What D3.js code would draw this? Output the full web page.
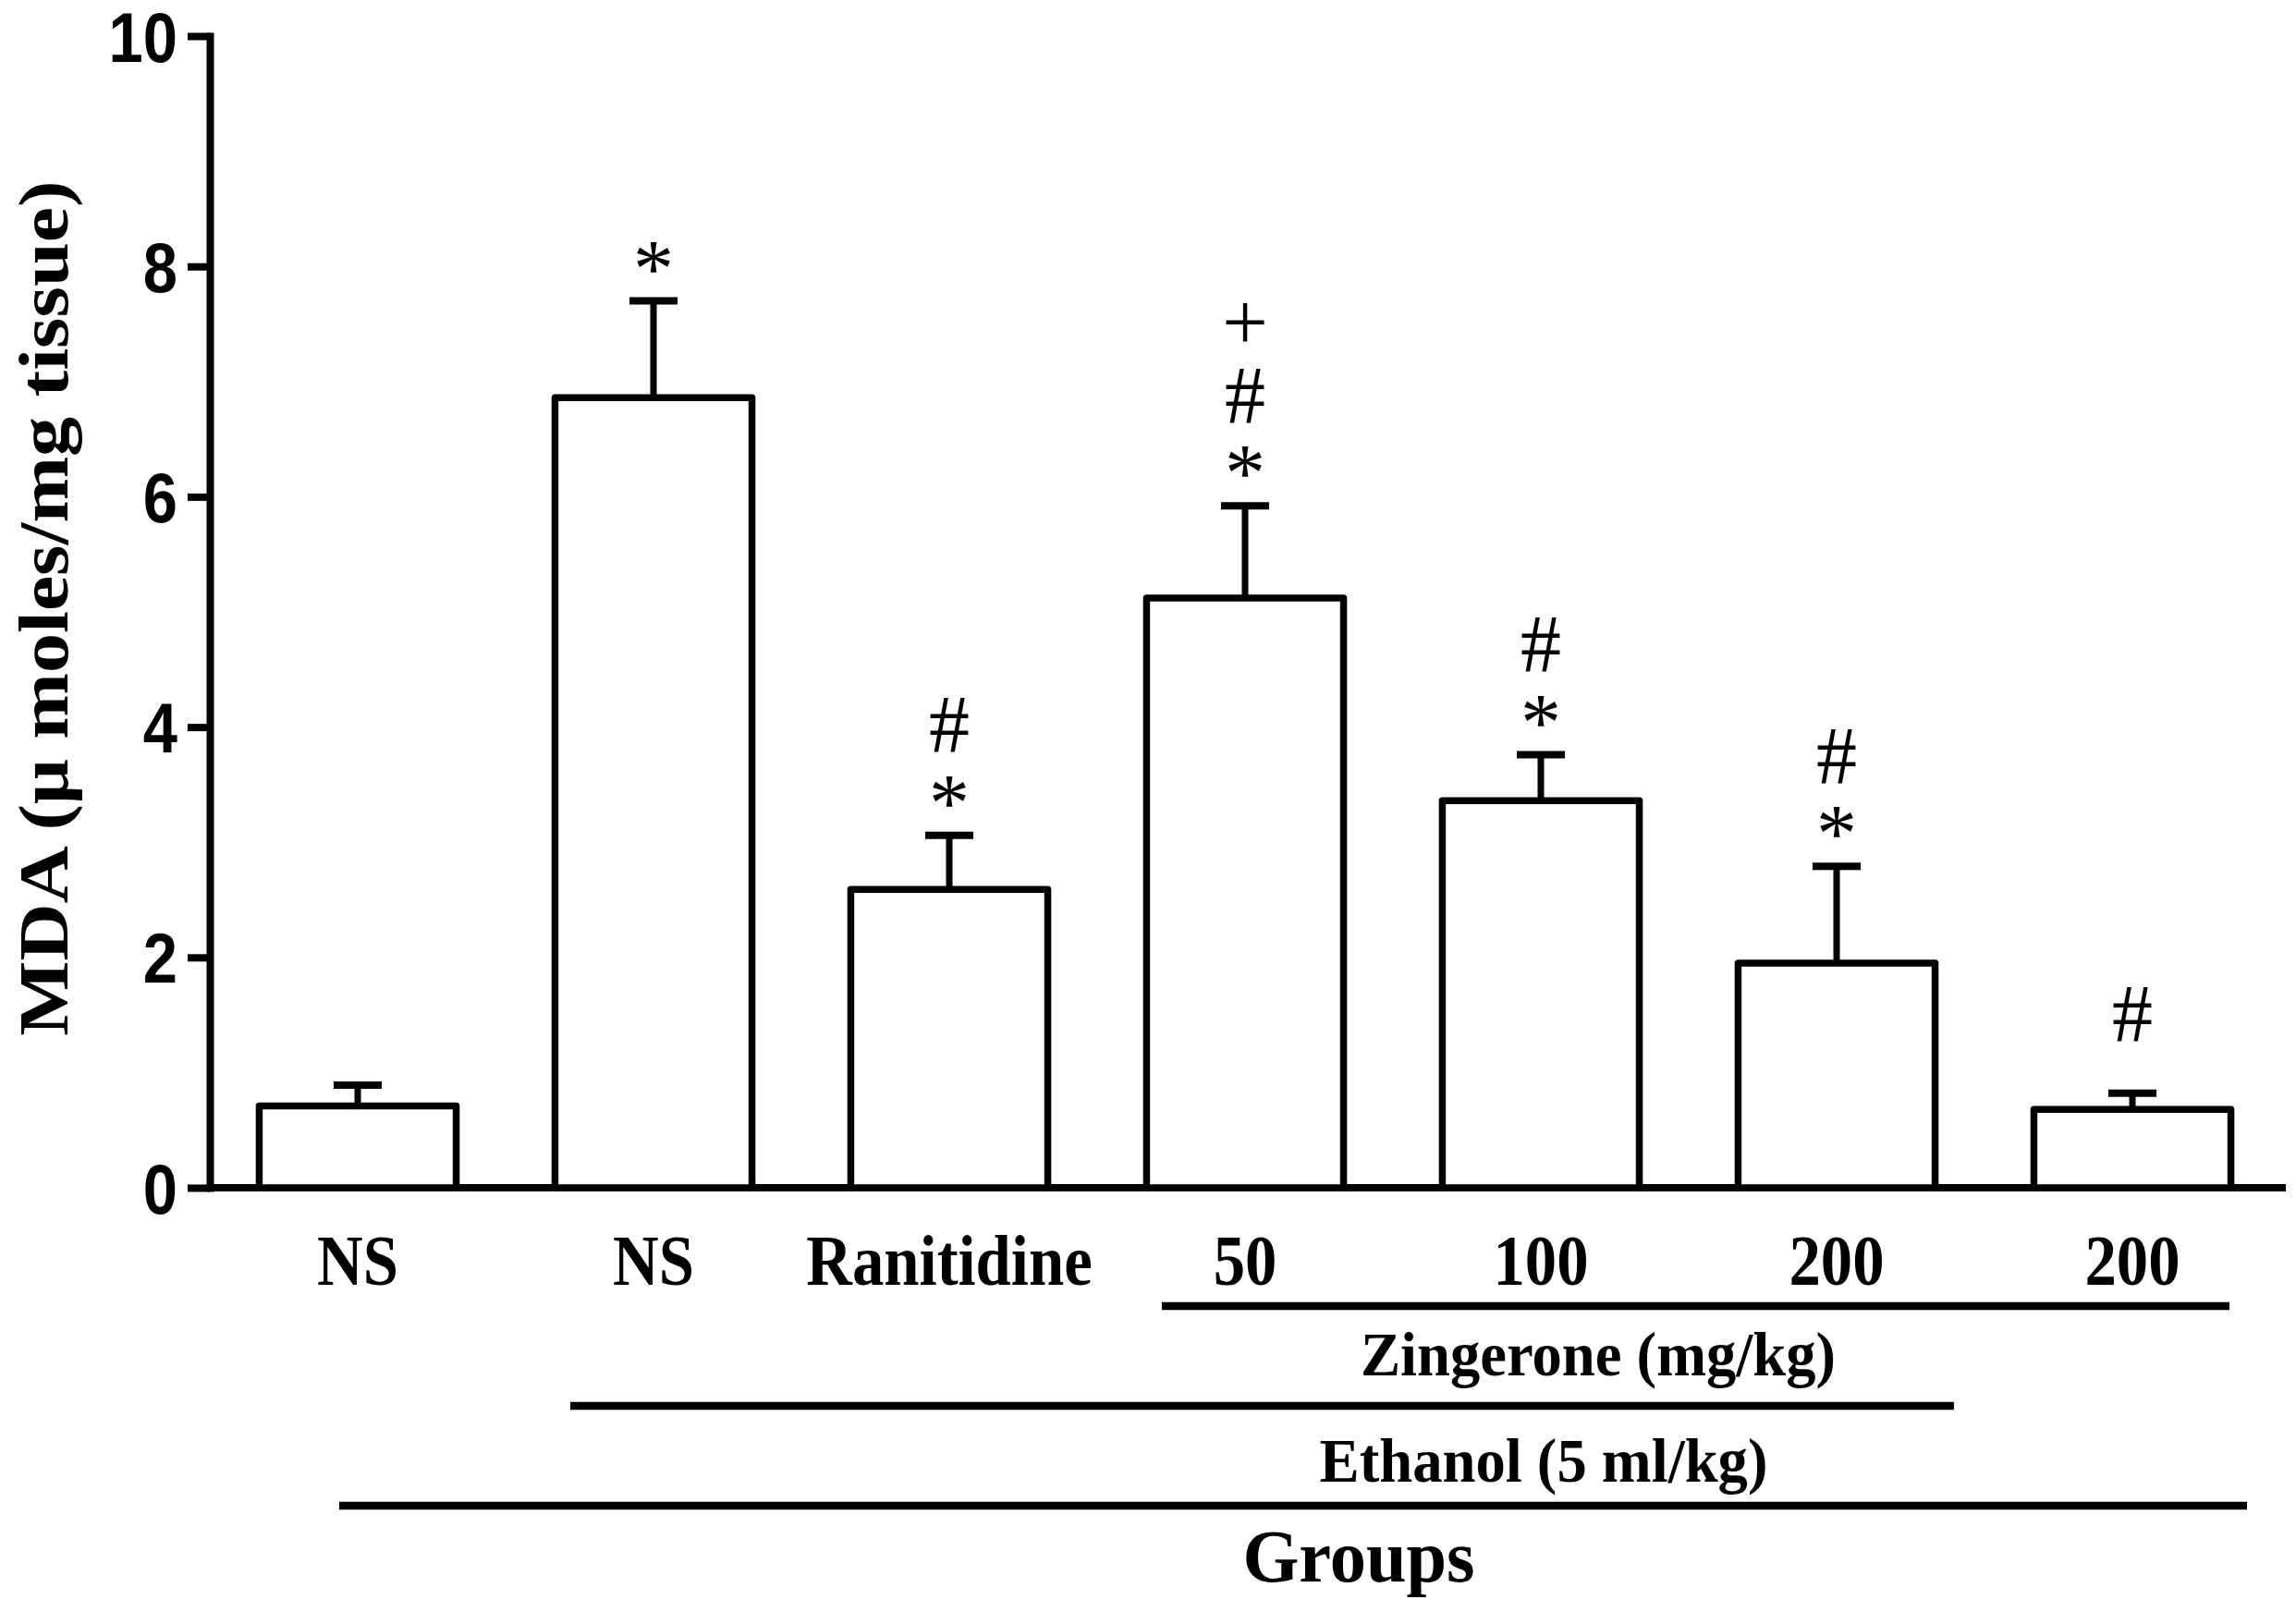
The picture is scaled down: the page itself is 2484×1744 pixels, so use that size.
<!DOCTYPE html>
<html>
<head>
<meta charset="utf-8">
<script src="https://cdn.jsdelivr.net/npm/d3@7"></script>
<style>
  body { margin: 0; background: #ffffff; }
  svg { display: block; }
</style>
</head>
<body>
<div id="chart"></div>
<script>
// Podaci (procijenjeni sa slike)
const groupLabels = ["NS", "NS", "Ranitidine", "50", "100", "200", "200"];
const mdaMean     = [0.71, 6.86, 2.59, 5.12, 3.36, 1.95, 0.68];
const mdaSem      = [0.18, 0.84, 0.47, 0.80, 0.40, 0.84, 0.14];
// oznake iznad stupaca, odozdo prema gore
const markers     = [[], ["*"], ["*", "#"], ["*", "#", "+"], ["*", "#"], ["*", "#"], ["#"]];
const yTicks      = [0, 2, 4, 6, 8, 10];

// podskupine ispod osi: tekst + indeksi prve/zadnje grupe
const bracketText  = ["Zingerone (mg/kg)", "Ethanol (5 ml/kg)", "Groups"];
const bracketFirst = [3, 1, 0];
const bracketLast  = [6, 5, 6];

const yTitle = "MDA (\u03bc moles/mg tissue)";

// Dimenzije
const W = 2484, H = 1744;
const svg = d3.select("#chart").append("svg")
    .attr("width", W)
    .attr("height", H);

const x = d3.scaleBand()
    .domain(d3.range(groupLabels.length))
    .range([227, 2467])
    .paddingInner(0.334)
    .paddingOuter(0.167);

const y = d3.scaleLinear()
    .domain([0, 10])
    .range([1285, 39]);

const black = "#000000";
const serif = "'Liberation Serif', 'Times New Roman', serif";
const sans  = "'Liberation Sans', Arial, sans-serif";

// Y os
const yAxis = svg.append("g")
    .attr("transform", "translate(227,0)")
    .call(d3.axisLeft(y).tickValues(yTicks).tickSize(24).tickSizeOuter(0));

yAxis.select(".domain")
    .attr("stroke", black)
    .attr("stroke-width", 8)
    .attr("stroke-linecap", "square");
yAxis.selectAll(".tick line")
    .attr("stroke", black)
    .attr("stroke-width", 8);
yAxis.selectAll(".tick text")
    .attr("font-family", sans)
    .attr("font-weight", "bold")
    .attr("font-size", 76)
    .attr("fill", black)
    .attr("text-anchor", "end")
    .attr("transform", "scale(0.88,1)")
    .attr("x", -35 / 0.88)
    .attr("dy", null)
    .attr("y", 27);

// Naslov Y osi
svg.append("text")
    .attr("transform", `translate(73, ${(y(0) + y(10)) / 2 - 4}) rotate(-90) scale(1,0.88)`)
    .attr("text-anchor", "middle")
    .attr("font-family", serif)
    .attr("font-weight", "bold")
    .attr("font-size", 86)
    .attr("fill", black)
    .text(yTitle);

// X os
const xAxis = svg.append("g")
    .attr("transform", `translate(0, ${y(0)})`)
    .call(d3.axisBottom(x).tickSize(0).tickSizeOuter(0).tickFormat(i => groupLabels[i]));

xAxis.select(".domain")
    .attr("d", `M${x.range()[0]},0H${x.range()[1] + 6}`)
    .attr("stroke", black)
    .attr("stroke-width", 8);
xAxis.selectAll(".tick text")
    .attr("font-family", serif)
    .attr("font-weight", "bold")
    .attr("font-size", 79)
    .attr("fill", black)
    .attr("y", null)
    .attr("dy", null)
    .attr("transform", "translate(0,105) scale(0.87,1)");

// Stupci
const bars = svg.append("g");
bars.selectAll(".bar")
    .data(mdaMean)
    .enter()
    .append("rect")
    .attr("class", "bar")
    .attr("x", (d, i) => x(i))
    .attr("y", d => y(d))
    .attr("width", x.bandwidth())
    .attr("height", d => y(0) - y(d))
    .attr("fill", "#ffffff")
    .attr("stroke", black)
    .attr("stroke-width", 7.5)
    .attr("stroke-linejoin", "round");

// Error barovi (samo prema gore)
const cx = i => x(i) + x.bandwidth() / 2;
const errGroup = bars.selectAll(".err")
    .data(mdaMean)
    .enter()
    .append("g")
    .attr("class", "err");

errGroup.append("line")
    .attr("x1", (d, i) => cx(i))
    .attr("x2", (d, i) => cx(i))
    .attr("y1", d => y(d))
    .attr("y2", (d, i) => y(d + mdaSem[i]))
    .attr("stroke", black)
    .attr("stroke-width", 7);

errGroup.append("line")
    .attr("x1", (d, i) => cx(i) - 26)
    .attr("x2", (d, i) => cx(i) + 26)
    .attr("y1", (d, i) => y(d + mdaSem[i]))
    .attr("y2", (d, i) => y(d + mdaSem[i]))
    .attr("stroke", black)
    .attr("stroke-width", 8);

// Oznake značajnosti (*, #, +) - jedan text po stupcu, svaki red kao tspan
const markSize = 88;
const glyphBox = { "*": [0.33, 0.676], "#": [0, 0.676], "+": [0.06, 0.506] };
const markLayer = svg.append("g");
mdaMean.forEach((d, i) => {
    if (!markers[i].length) return;
    const label = markLayer.append("text")
        .attr("text-anchor", "middle")
        .attr("font-family", serif)
        .attr("font-size", markSize)
        .attr("fill", black);
    let cursor = y(d + mdaSem[i]);   // gornji rub prethodne oznake
    if (markers[i][0] === "#") cursor -= 22;
    markers[i].forEach((m, k) => {
        const box = glyphBox[m];
        const bottom = cursor - (k === 0 ? 35 : 25);
        label.append("tspan")
            .attr("x", cx(i))
            .attr("y", bottom + box[0] * markSize)
            .text(m);
        cursor = bottom - (box[1] - box[0]) * markSize;
    });
});

// Linije i natpisi podskupina ispod osi
const bracketLineY  = [1413, 1521, 1629];
const bracketTextY  = [1488, 1603, 1711];
const bracketFrom   = [-90, -90, -20];   // pomak od središta prve grupe
const bracketTo     = [105, 127, 124];   // pomak od središta zadnje grupe
const bracketTextDx = [62, 3, 123];      // pomak natpisa od središta referentne grupe
const bracketAnchor = [4, 4, 3];
const bracketFont   = [67, 67, 80];
const bracketScale  = [0.965, 0.965, 0.98];

const brackets = svg.append("g");
bracketText.forEach((t, j) => {
    brackets.append("line")
        .attr("x1", cx(bracketFirst[j]) + bracketFrom[j])
        .attr("x2", cx(bracketLast[j]) + bracketTo[j])
        .attr("y1", bracketLineY[j])
        .attr("y2", bracketLineY[j])
        .attr("stroke", black)
        .attr("stroke-width", 8.5);

    const tx = cx(bracketAnchor[j]) + bracketTextDx[j];
    brackets.append("text")
        .attr("transform", `translate(${tx}, ${bracketTextY[j]}) scale(${bracketScale[j]},1)`)
        .attr("text-anchor", "middle")
        .attr("font-family", serif)
        .attr("font-weight", "bold")
        .attr("font-size", bracketFont[j])
        .attr("fill", black)
        .text(t);
});
</script>
</body>
</html>
